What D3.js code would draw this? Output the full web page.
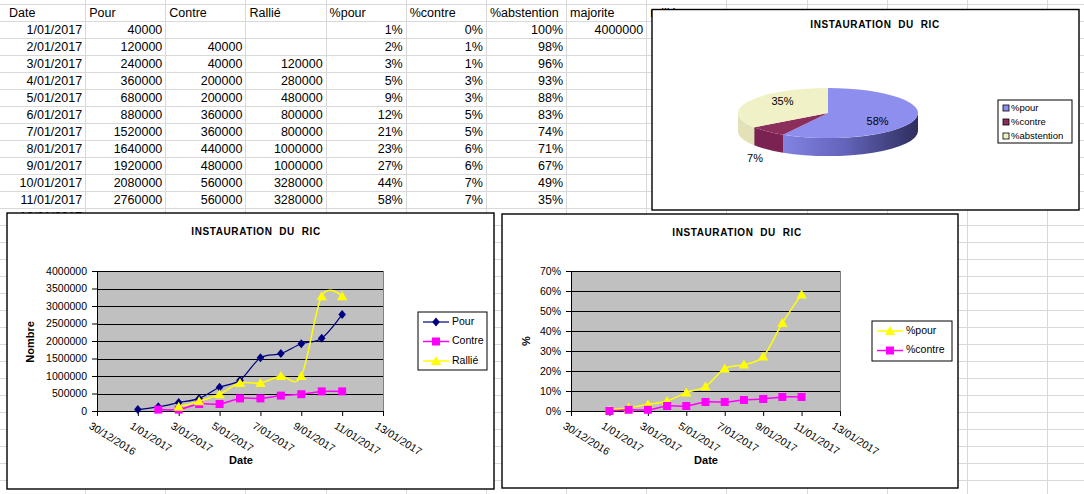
<!DOCTYPE html>
<html>
<head>
<meta charset="utf-8">
<script src="https://cdn.jsdelivr.net/npm/d3@7"></script>
<style>
html, body { margin: 0; padding: 0; background: #fff; }
svg { display: block; font-family: "Liberation Sans", Arial, sans-serif; }
</style>
</head>
<body>
<svg id="sheet" width="1084" height="494"></svg>
<script>
// sheet data
var headers = ["Date", "Pour", "Contre", "Rallié", "%pour", "%contre", "%abstention", "majorite", "ralliés"];
var dates = ["1/01/2017", "2/01/2017", "3/01/2017", "4/01/2017", "5/01/2017", "6/01/2017",
             "7/01/2017", "8/01/2017", "9/01/2017", "10/01/2017", "11/01/2017"];
var nextDate = "12/01/2017";
var pour    = [40000, 120000, 240000, 360000, 680000, 880000, 1520000, 1640000, 1920000, 2080000, 2760000];
var contre  = [null, 40000, 40000, 200000, 200000, 360000, 360000, 440000, 480000, 560000, 560000];
var rallie  = [null, null, 120000, 280000, 480000, 800000, 800000, 1000000, 1000000, 3280000, 3280000];
var pctPour       = [0.5, 1.6, 3.3, 5, 9.2, 12.3, 21.2, 23.2, 27.2, 44, 58.3];
var pctContre     = [0, 0.6, 0.6, 2.5, 2.5, 4.5, 4.5, 5.5, 6, 7, 7];
var pctAbstention = [99.5, 97.8, 96.1, 92.5, 88.3, 83.2, 74.3, 71.3, 66.8, 49, 34.7];
var majorite = 4000000;

var chartTitle = "INSTAURATION  DU  RIC";
var axisStart = "30/12/2016", axisEnd = "13/01/2017";
var countTicks = [0, 500000, 1000000, 1500000, 2000000, 2500000, 3000000, 3500000, 4000000];
var pctTicks = [0, 10, 20, 30, 40, 50, 60, 70];
var pieNames = ["%pour", "%contre", "%abstention"];

var parseDate = d3.utcParse("%d/%m/%Y");
var fmtDate = d3.utcFormat("%-d/%m/%Y");
var pct = function(v) { return Math.round(v) + "%"; };

var svg = d3.select("#sheet");
svg.append("rect").attr("width", 1084).attr("height", 494).attr("fill", "#fff");

// ---- spreadsheet grid ----
var colW = 80.15, rowH = 17, col0 = 5, row0 = 4;
var grid = svg.append("g").attr("stroke", "#d9d9d9").attr("stroke-width", 1);
d3.range(1, 14).forEach(function(k) {
    var x = Math.round(col0 + colW * k) + 0.5;
    grid.append("line").attr("x1", x).attr("x2", x).attr("y1", 0).attr("y2", 494);
});
d3.range(0, 30).forEach(function(i) {
    var y = row0 + rowH * i + 0.5;
    grid.append("line").attr("x1", 0).attr("x2", 1084).attr("y1", y).attr("y2", y);
});

var cells = svg.append("g").attr("font-size", "12.5px").attr("fill", "#000");
function cell(col, row, txt, right) {
    if (txt === null || txt === undefined) return;
    var x = right ? col0 + colW * (col + 1) - 3 : col0 + colW * col + 4;
    cells.append("text")
        .attr("x", x).attr("y", row0 + rowH * row + 13)
        .attr("text-anchor", right ? "end" : "start")
        .text(txt);
}
headers.forEach(function(h, j) { cell(j, 0, h, false); });
dates.forEach(function(d, i) {
    var r = i + 1;
    cell(0, r, d, true);
    cell(1, r, pour[i], true);
    cell(2, r, contre[i], true);
    cell(3, r, rallie[i], true);
    cell(4, r, pct(pctPour[i]), true);
    cell(5, r, pct(pctContre[i]), true);
    cell(6, r, pct(pctAbstention[i]), true);
});
cell(7, 1, majorite, true);
cell(0, 12, nextDate, true);

// ---- line charts ----
function frame(box) {
    var g = svg.append("g");
    g.append("rect")
        .attr("x", box.x).attr("y", box.y).attr("width", box.w).attr("height", box.h)
        .attr("fill", "#fff").attr("stroke", "#000").attr("stroke-width", 1.4);
    return g;
}

function title(g, x, y) {
    g.append("text")
        .attr("x", x).attr("y", y)
        .attr("text-anchor", "middle").attr("dominant-baseline", "middle")
        .attr("font-size", "10px").attr("font-weight", "bold")
        .attr("letter-spacing", "0.6px").style("white-space", "pre")
        .text(chartTitle);
}

var markers = {
    diamond:  "M0,-4.5L3.8,0L0,4.5L-3.8,0Z",
    square:   "M-4,-4H4V4H-4Z",
    triangle: "M0,-5L5.2,4L-5.2,4Z"
};

function lineChart(cfg) {
    var g = frame(cfg.box);
    title(g, cfg.titleX, cfg.box.y + 19);
    var p = cfg.plot;

    var x = d3.scaleUtc().domain([parseDate(axisStart), parseDate(axisEnd)]).range([p.x0, p.x1]);
    var y = d3.scaleLinear().domain([0, cfg.yTicks[cfg.yTicks.length - 1]]).range([p.y1, p.y0]);

    g.append("rect")
        .attr("x", p.x0).attr("y", p.y0).attr("width", p.x1 - p.x0).attr("height", p.y1 - p.y0)
        .attr("fill", "#c0c0c0");
    g.append("line")
        .attr("x1", p.x1 + 0.5).attr("x2", p.x1 + 0.5).attr("y1", p.y0).attr("y2", p.y1)
        .attr("stroke", "#808080");
    g.selectAll(".grid").data(cfg.yTicks.slice(1)).enter().append("line")
        .attr("x1", p.x0).attr("x2", p.x1)
        .attr("y1", function(d) { return Math.round(y(d)) + 0.5; })
        .attr("y2", function(d) { return Math.round(y(d)) + 0.5; })
        .attr("stroke", "#000");

    var tickDates = d3.utcDay.range(parseDate(axisStart), d3.utcDay.offset(parseDate(axisEnd), 1), 2);
    var xa = g.append("g").attr("transform", "translate(0," + p.y1 + ")")
        .call(d3.axisBottom(x).tickValues(tickDates).tickFormat(fmtDate).tickSize(5).tickSizeOuter(0));
    xa.selectAll("text")
        .attr("x", 0).attr("y", 0).attr("dy", "0.75em")
        .attr("text-anchor", "start")
        .attr("transform", "translate(-5,10) rotate(32)");

    var ya = g.append("g").attr("transform", "translate(" + p.x0 + ",0)")
        .call(d3.axisLeft(y).tickValues(cfg.yTicks).tickFormat(cfg.yFormat).tickSize(5).tickPadding(5).tickSizeOuter(0));

    [xa, ya].forEach(function(a) {
        a.selectAll("text").attr("font-size", "10.5px").attr("font-family", null).attr("fill", "#000");
        a.selectAll("line, path").attr("stroke", "#000");
    });

    g.append("text")
        .attr("x", cfg.xTitle[0]).attr("y", cfg.xTitle[1])
        .attr("text-anchor", "middle").attr("dominant-baseline", "middle")
        .attr("font-size", "11px").attr("font-weight", "bold")
        .text("Date");
    g.append("text")
        .attr("transform", "translate(" + cfg.yTitle[0] + "," + cfg.yTitle[1] + ") rotate(-90)")
        .attr("text-anchor", "middle").attr("dominant-baseline", "middle")
        .attr("font-size", "11px").attr("font-weight", "bold")
        .text(cfg.yLabel);

    var line = d3.line()
        .defined(function(d) { return d.v !== null; })
        .x(function(d) { return x(d.t); })
        .y(function(d) { return y(d.v); })
        .curve(d3.curveCardinal.tension(0));

    cfg.series.forEach(function(s) {
        var pts = s.values.map(function(v, i) { return { t: parseDate(dates[i]), v: v }; })
            .filter(function(d) { return d.v !== null; });
        g.append("path").datum(pts)
            .attr("d", line).attr("fill", "none")
            .attr("stroke", s.color).attr("stroke-width", s.width);
        g.selectAll(null).data(pts).enter().append("path")
            .attr("d", markers[s.marker])
            .attr("transform", function(d) { return "translate(" + x(d.t) + "," + y(d.v) + ")"; })
            .attr("fill", s.color);
    });

    var lb = cfg.legend;
    g.append("rect")
        .attr("x", lb.x).attr("y", lb.y).attr("width", lb.w).attr("height", lb.h)
        .attr("fill", "#fff").attr("stroke", "#000");
    cfg.series.forEach(function(s, i) {
        var cy = lb.y + lb.first + i * lb.step;
        g.append("line")
            .attr("x1", lb.x + 5).attr("x2", lb.x + 31).attr("y1", cy).attr("y2", cy)
            .attr("stroke", s.color).attr("stroke-width", s.width);
        g.append("path").attr("d", markers[s.marker])
            .attr("transform", "translate(" + (lb.x + 18) + "," + cy + ")")
            .attr("fill", s.color);
        g.append("text")
            .attr("x", lb.x + 34).attr("y", cy)
            .attr("dominant-baseline", "middle").attr("font-size", "10.5px")
            .text(s.name);
    });
}

// left chart: counts
lineChart({
    box: { x: 7, y: 213, w: 487, h: 276 },
    plot: { x0: 97, x1: 383, y0: 271, y1: 411 },
    titleX: 256,
    yTicks: countTicks,
    yFormat: d3.format("d"),
    yLabel: "Nombre",
    xTitle: [241, 461],
    yTitle: [31, 342],
    series: [
        { name: "Pour",   values: pour,   color: "#000080", marker: "diamond",  width: 1.2 },
        { name: "Contre", values: contre, color: "#ff00ff", marker: "square",   width: 1.5 },
        { name: "Rallié", values: rallie, color: "#ffff00", marker: "triangle", width: 1.5 }
    ],
    legend: { x: 418, y: 312, w: 69, h: 58, first: 10, step: 19.5 }
});

// right chart: percentages
lineChart({
    box: { x: 502, y: 214, w: 456, h: 274 },
    plot: { x0: 571, x1: 840, y0: 271, y1: 411 },
    titleX: 737,
    yTicks: pctTicks,
    yFormat: function(d) { return d + "%"; },
    yLabel: "%",
    xTitle: [706, 461],
    yTitle: [527, 341],
    series: [
        { name: "%pour",   values: pctPour,   color: "#ffff00", marker: "triangle", width: 1.5 },
        { name: "%contre", values: pctContre, color: "#ff00ff", marker: "square",   width: 1.5 }
    ],
    legend: { x: 872, y: 321, w: 80, h: 40, first: 10, step: 19.5 }
});

// ---- 3D pie ----
(function() {
    var g = frame({ x: 652, y: 9.5, w: 427, h: 200.5 });
    title(g, 875, 25);

    var last = dates.length - 1;
    var vals = [pctPour[last], pctContre[last], pctAbstention[last]];
    var tops  = ["#8e8eee", "#8c2e5c", "#f1f1c8"];
    var sides = ["url(#pourSide)", "#7a2251", "#e2e2b6"];

    var defs = svg.append("defs");
    var grad = defs.append("linearGradient").attr("id", "pourSide")
        .attr("x1", 0).attr("x2", 1).attr("y1", 0).attr("y2", 0);
    grad.append("stop").attr("offset", 0).attr("stop-color", "#8282e2");
    grad.append("stop").attr("offset", 0.45).attr("stop-color", "#6464bc");
    grad.append("stop").attr("offset", 1).attr("stop-color", "#2e2e5e");

    var cx = 828, cy = 113, rx = 90, ry = 25, depth = 18;
    function pt(a, dz) { return [cx + rx * Math.sin(a), cy - ry * Math.cos(a) + (dz || 0)]; }

    var arcs = d3.pie().sort(null)(vals);

    arcs.forEach(function(a, i) {
        var s = Math.max(a.startAngle, Math.PI / 2), e = Math.min(a.endAngle, 3 * Math.PI / 2);
        if (s >= e) return;
        var p0 = pt(s), p1 = pt(e), p2 = pt(e, depth), p3 = pt(s, depth);
        g.append("path")
            .attr("d", "M" + p0 + "A" + rx + "," + ry + " 0 0 1 " + p1 + "L" + p2 +
                       "A" + rx + "," + ry + " 0 0 0 " + p3 + "Z")
            .attr("fill", sides[i]);
    });
    arcs.forEach(function(a, i) {
        var p0 = pt(a.startAngle), p1 = pt(a.endAngle);
        var large = a.endAngle - a.startAngle > Math.PI ? 1 : 0;
        g.append("path")
            .attr("d", "M" + cx + "," + cy + "L" + p0 + "A" + rx + "," + ry + " 0 " + large + " 1 " + p1 + "Z")
            .attr("fill", tops[i]);
    });
    arcs.forEach(function(a) {
        var mid = (a.startAngle + a.endAngle) / 2;
        var k = a.value < 10 ? 1.2 : 0.57;
        g.append("text")
            .attr("x", cx + rx * k * Math.sin(mid))
            .attr("y", cy + 2 - 2 * ry * k * Math.cos(mid))
            .attr("text-anchor", "middle").attr("dominant-baseline", "middle")
            .attr("font-size", "11px")
            .text(pct(a.value));
    });

    g.append("rect").attr("x", 998).attr("y", 100).attr("width", 74).attr("height", 43)
        .attr("fill", "#fff").attr("stroke", "#000");
    pieNames.forEach(function(n, i) {
        var yy = 108 + i * 14;
        g.append("rect").attr("x", 1003).attr("y", yy - 3).attr("width", 6).attr("height", 6)
            .attr("fill", tops[i]).attr("stroke", "#000").attr("stroke-width", 0.8);
        g.append("text").attr("x", 1011).attr("y", yy)
            .attr("dominant-baseline", "middle").attr("font-size", "9.5px")
            .text(n);
    });
})();
</script>
</body>
</html>
